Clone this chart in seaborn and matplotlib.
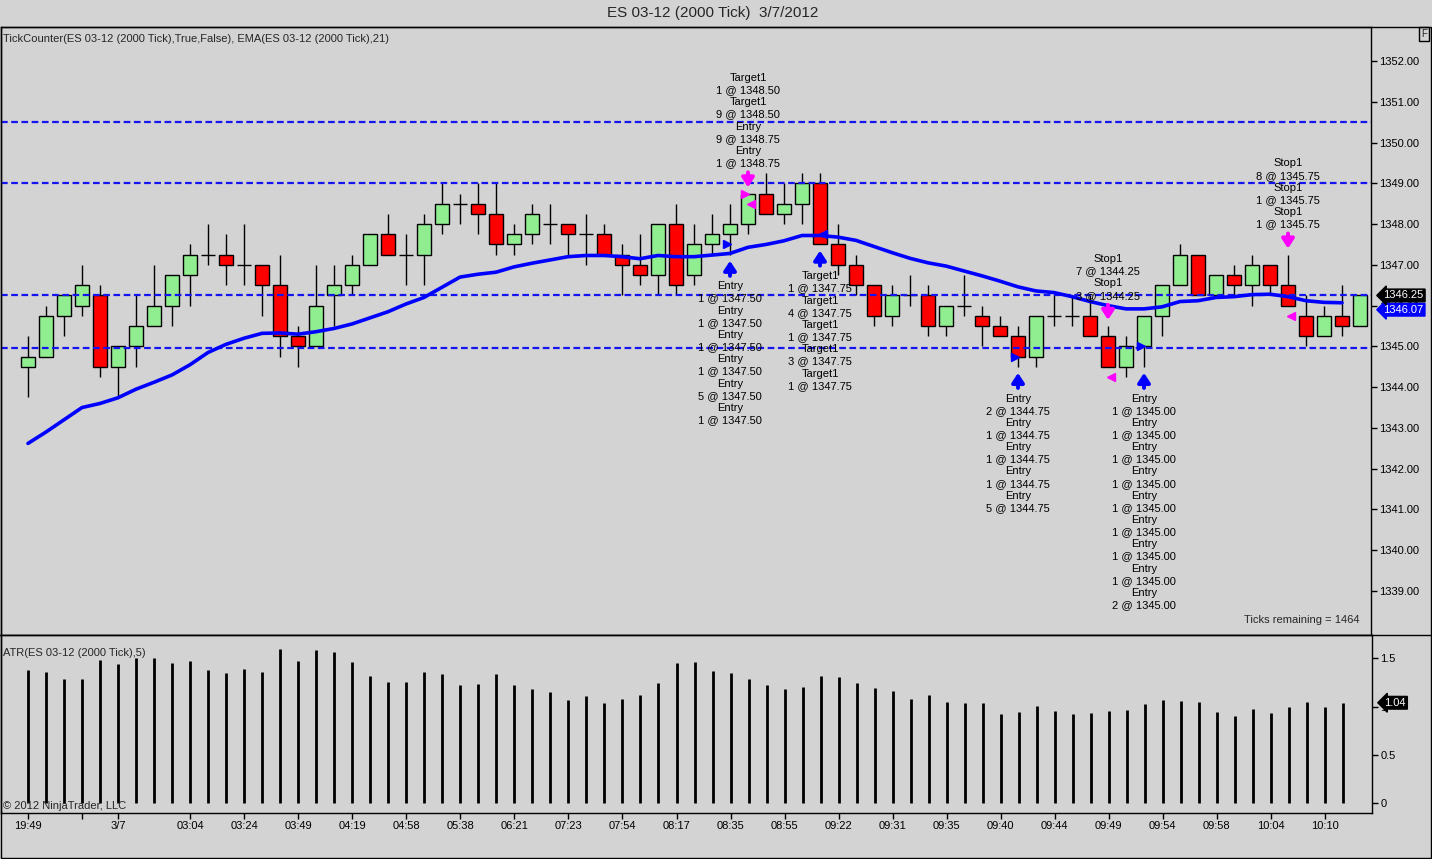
#recreates the NinjaTrader ES 03-12 (2000 Tick) chart with EMA and ATR panels

import matplotlib
matplotlib.use("Agg")
import matplotlib.pyplot as plt
from matplotlib.lines import Line2D
from matplotlib.patches import Rectangle
import numpy as np
import pandas as pd
import seaborn as sns

#candle values
opens = [1344.5, 1344.75, 1345.75, 1346, 1346.25, 1344.5, 1345, 1345.5, 1346, 1346.75,
         1347.25, 1347.25, 1347, 1347, 1346.5, 1345.25, 1345, 1346.25, 1346.5, 1347,
         1347.75, 1347.25, 1347.25, 1348, 1348.5, 1348.5, 1348.25, 1347.5, 1347.75, 1348,
         1348, 1347.75, 1347.75, 1347.25, 1347, 1346.75, 1348, 1346.75, 1347.5, 1347.75,
         1348, 1348.75, 1348.25, 1348.5, 1349, 1347.5, 1347, 1346.5, 1345.75, 1346.25,
         1346.25, 1345.5, 1346, 1345.75, 1345.5, 1345.25, 1344.75, 1345.75, 1345.75, 1345.75,
         1345.25, 1344.5, 1345, 1345.75, 1346.5, 1347.25, 1346.25, 1346.75, 1346.5, 1347,
         1346.5, 1345.75, 1345.25, 1345.75, 1345.5]
highs = [1345.25, 1346, 1346.25, 1347, 1346.5, 1345, 1346.25, 1347, 1346.75, 1347.5,
         1348, 1347.75, 1348, 1347, 1347.25, 1345.5, 1347, 1347, 1347.25, 1347.75,
         1348.25, 1347.75, 1348.25, 1349, 1348.75, 1349, 1349, 1348, 1348.5, 1348.5,
         1348, 1348.25, 1348, 1347.5, 1347.75, 1348, 1348.5, 1348, 1348.25, 1348.5,
         1348.75, 1349.25, 1349, 1349.25, 1349.25, 1348, 1347.25, 1346.5, 1346.5, 1346.75,
         1346.5, 1346, 1346.75, 1346, 1345.75, 1345.5, 1345.75, 1346.25, 1346.25, 1346.25,
         1345.5, 1345.25, 1345.75, 1346.5, 1347.5, 1347.25, 1346.75, 1347, 1347.25, 1347,
         1347.25, 1346.25, 1346, 1346.5, 1346.25]
lows = [1343.75, 1344.75, 1345.25, 1345.75, 1344.25, 1343.75, 1344.5, 1345.5, 1345.5, 1346,
        1347, 1346.5, 1346.5, 1345.75, 1344.75, 1344.5, 1345, 1345.5, 1346.25, 1347,
        1347.25, 1346.5, 1346.5, 1347.75, 1348, 1347.75, 1347.25, 1347.25, 1347.5, 1347.5,
        1347.25, 1347, 1347.25, 1346.25, 1346.5, 1346.25, 1346.25, 1346.5, 1347.25, 1347.25,
        1347.75, 1348.25, 1348, 1348, 1347.5, 1346.75, 1346.25, 1345.5, 1345.5, 1346,
        1345.25, 1345.25, 1345.75, 1345, 1345.25, 1344.5, 1344.5, 1345.5, 1345.5, 1345.25,
        1344.5, 1344.25, 1344.5, 1345.25, 1346.5, 1346.25, 1346.25, 1346.25, 1346, 1346.25,
        1346, 1345, 1345.25, 1345.25, 1345.5]
closes = [1344.75, 1345.75, 1346.25, 1346.5, 1344.5, 1345, 1345.5, 1346, 1346.75, 1347.25,
          1347.25, 1347, 1347, 1346.5, 1345.25, 1345, 1346, 1346.5, 1347, 1347.75,
          1347.25, 1347.25, 1348, 1348.5, 1348.5, 1348.25, 1347.5, 1347.75, 1348.25, 1348,
          1347.75, 1347.75, 1347.25, 1347, 1346.75, 1348, 1346.5, 1347.5, 1347.75, 1348,
          1348.75, 1348.25, 1348.5, 1349, 1347.5, 1347, 1346.5, 1345.75, 1346.25, 1346.25,
          1345.5, 1346, 1346, 1345.5, 1345.25, 1344.75, 1345.75, 1345.75, 1345.75, 1345.25,
          1344.5, 1345, 1345.75, 1346.5, 1347.25, 1346.25, 1346.75, 1346.5, 1347, 1346.5,
          1346, 1345.25, 1345.75, 1345.5, 1346.25]

#EMA(21) line, drawn up to the second to last bar
ema = [1342.62, 1342.9, 1343.2, 1343.5, 1343.6, 1343.74, 1343.95, 1344.12, 1344.3, 1344.55,
       1344.85, 1345.05, 1345.2, 1345.32, 1345.33, 1345.3, 1345.36, 1345.44, 1345.55, 1345.7,
       1345.85, 1346.04, 1346.2, 1346.45, 1346.7, 1346.77, 1346.82, 1346.95, 1347.04, 1347.12,
       1347.2, 1347.23, 1347.23, 1347.2, 1347.15, 1347.23, 1347.2, 1347.2, 1347.24, 1347.28,
       1347.43, 1347.5, 1347.59, 1347.72, 1347.72, 1347.68, 1347.6, 1347.45, 1347.3, 1347.16,
       1347.05, 1346.97, 1346.85, 1346.73, 1346.6, 1346.46, 1346.36, 1346.32, 1346.22, 1346.1,
       1346.0, 1345.92, 1345.92, 1345.97, 1346.1, 1346.12, 1346.2, 1346.22, 1346.27, 1346.28,
       1346.22, 1346.12, 1346.08, 1346.07]

#ATR(5) values
atr = [1.38, 1.36, 1.29, 1.29, 1.48, 1.44, 1.50, 1.50, 1.45, 1.47,
       1.38, 1.35, 1.39, 1.36, 1.60, 1.47, 1.59, 1.57, 1.46, 1.32,
       1.26, 1.26, 1.36, 1.34, 1.22, 1.23, 1.34, 1.22, 1.18, 1.15,
       1.07, 1.11, 1.04, 1.08, 1.12, 1.24, 1.45, 1.46, 1.37, 1.35,
       1.29, 1.22, 1.18, 1.20, 1.32, 1.31, 1.24, 1.19, 1.16, 1.08,
       1.12, 1.05, 1.04, 1.04, 0.92, 0.94, 1.01, 0.95, 0.92, 0.93,
       0.95, 0.96, 1.03, 1.07, 1.06, 1.05, 0.94, 0.90, 0.98, 0.93,
       1.00, 1.05, 1.00, 1.04]

#horizontal levels
levels = [1350.5, 1349.0, 1346.25, 1344.95]

#time axis
tick_pos = [0, 3, 5, 9, 12, 15, 18, 21, 24, 27, 30, 33, 36, 39, 42, 45, 48, 51, 54, 57, 60, 63, 66, 69, 72]
tick_labels = ["19:49", "", "3/7", "03:04", "03:24", "03:49", "04:19", "04:58", "05:38", "06:21",
               "07:23", "07:54", "08:17", "08:35", "08:55", "09:22", "09:31", "09:35", "09:40",
               "09:44", "09:49", "09:54", "09:58", "10:04", "10:10"]

#trade markers: bar index, side of the bar, colour, text
trade_bars = [39, 40, 44, 55, 60, 62, 70]
trade_side = ["below", "above", "below", "below", "above", "below", "above"]
trade_color = ["#0000ff", "#ff00ff", "#0000ff", "#0000ff", "#ff00ff", "#0000ff", "#ff00ff"]
trade_text = [
    ["Entry", "1 @ 1347.50", "Entry", "1 @ 1347.50", "Entry", "1 @ 1347.50",
     "Entry", "1 @ 1347.50", "Entry", "5 @ 1347.50", "Entry", "1 @ 1347.50"],
    ["Target1", "1 @ 1348.50", "Target1", "9 @ 1348.50", "Entry", "9 @ 1348.75", "Entry", "1 @ 1348.75"],
    ["Target1", "1 @ 1347.75", "Target1", "4 @ 1347.75", "Target1", "1 @ 1347.75",
     "Target1", "3 @ 1347.75", "Target1", "1 @ 1347.75"],
    ["Entry", "2 @ 1344.75", "Entry", "1 @ 1344.75", "Entry", "1 @ 1344.75",
     "Entry", "1 @ 1344.75", "Entry", "5 @ 1344.75"],
    ["Stop1", "7 @ 1344.25", "Stop1", "3 @ 1344.25"],
    ["Entry", "1 @ 1345.00", "Entry", "1 @ 1345.00", "Entry", "1 @ 1345.00",
     "Entry", "1 @ 1345.00", "Entry", "1 @ 1345.00", "Entry", "1 @ 1345.00",
     "Entry", "1 @ 1345.00", "Entry", "1 @ 1345.00", "Entry", "2 @ 1345.00"],
    ["Stop1", "8 @ 1345.75", "Stop1", "1 @ 1345.75", "Stop1", "1 @ 1345.75"],
]

#execution triangles: bar index, price, marker, colour
exec_bars = [39, 40, 40, 44, 55, 60, 62, 70]
exec_price = [1347.5, 1348.75, 1348.5, 1347.75, 1344.75, 1344.25, 1345.0, 1345.75]
exec_marker = [">", ">", "<", "<", ">", "<", ">", "<"]
exec_color = ["#0000ff", "#ff00ff", "#ff00ff", "#0000ff", "#0000ff", "#ff00ff", "#0000ff", "#ff00ff"]

BG = "#d3d3d3"
sns.set_style("ticks", {"axes.facecolor": BG, "figure.facecolor": BG,
                        "axes.edgecolor": "black", "xtick.color": "black", "ytick.color": "black"})
plt.rcParams['font.family'] = ['Liberation Sans', 'DejaVu Sans']

W, H = 1432, 859
fig = plt.figure(figsize=(W / 100, H / 100), dpi=100)

#pixel helpers
def fx(px):
    return px / W

def fy(py):
    return 1 - py / H

ax = fig.add_axes([fx(1), fy(635), fx(1371) - fx(1), fy(27) - fy(635)])
ax2 = fig.add_axes([fx(1), fy(813), fx(1372) - fx(1), fy(635) - fy(813)])

idx = np.arange(len(opens))
o = np.array(opens)
h = np.array(highs)
l = np.array(lows)
c = np.array(closes)
up = c > o
dn = c < o
doji = c == o
bw = 0.78

# wicks then bodies
ax.vlines(idx, l, h, color="black", lw=1, zorder=2)
ax.bar(idx[up], (c - o)[up], bottom=o[up], width=bw, color="#90ee90", edgecolor="black", lw=1, zorder=3)
ax.bar(idx[dn], (o - c)[dn], bottom=c[dn], width=bw, color="#ff0000", edgecolor="black", lw=1, zorder=3)
ax.hlines(o[doji], idx[doji] - bw / 2, idx[doji] + bw / 2, color="black", lw=1, zorder=3)

# EMA
ema_df = pd.DataFrame({"bar": idx[:len(ema)], "ema": ema})
sns.lineplot(data=ema_df, x="bar", y="ema", ax=ax, color="#0000ff", lw=2.6, zorder=5)

# level lines
for v in levels:
    ax.axhline(v, color="#1414f0", lw=1.6, ls=(0, (3, 1.6)), zorder=4)

# trade arrows and text
for i, side, col, lines in zip(trade_bars, trade_side, trade_color, trade_text):
    if side == "below":
        tip = lows[i] - 0.15
        tail = tip - 0.37
        off = -4
        va = "top"
    else:
        tip = highs[i] + 0.15
        tail = tip + 0.37
        off = 3
        va = "bottom"
    ax.annotate("", xy=(i, tip), xytext=(i, tail),
                arrowprops=dict(arrowstyle="-|>,head_width=0.36,head_length=0.55", color=col,
                                lw=2.8, shrinkA=0, shrinkB=0, mutation_scale=10), zorder=6)
    ax.annotate("\n".join(lines), xy=(i, tail), xytext=(0, off), textcoords="offset points",
                ha="center", va=va, fontsize=8, linespacing=1.27, color="black", zorder=6)

for i, p, m, col in zip(exec_bars, exec_price, exec_marker, exec_color):
    shift = -0.17 if m == ">" else 0.17
    ax.plot(i + shift, p, marker=m, color=col, markersize=5.5, ls="none", zorder=6)

ax.set_xlim(-1.5, 74.61)
ax.set_ylim(1337.921, 1352.834)
ax.yaxis.tick_right()
ax.set_yticks(np.arange(1339, 1353, 1))
ax.set_yticklabels([f"{v:.2f}" for v in np.arange(1339, 1353, 1)])
ax.tick_params(axis="y", direction="out", length=4, width=1, labelsize=8, pad=2)
ax.tick_params(axis="x", bottom=False, labelbottom=False)
ax.set_xlabel("")
ax.set_ylabel("")
for s in ax.spines.values():
    s.set_visible(True)
    s.set_linewidth(1)

# current price / ema labels (they overlap in the original too)
ax.annotate(f"{ema[-1]:.2f}", xy=(1, ema[-1]), xycoords=("axes fraction", "data"),
            xytext=(9, -5), textcoords="offset points", color="white", fontsize=8,
            ha="left", va="center", annotation_clip=False,
            bbox=dict(boxstyle="larrow,pad=0.12", fc="#0000ff", ec="#0000ff"), zorder=7)
ax.annotate(f"{closes[-1]:.2f}", xy=(1, closes[-1]), xycoords=("axes fraction", "data"),
            xytext=(9, 0), textcoords="offset points", color="white", fontsize=8,
            ha="left", va="center", annotation_clip=False,
            bbox=dict(boxstyle="larrow,pad=0.12", fc="black", ec="black"), zorder=8)

# ATR panel
ax2.vlines(idx[:len(atr)], 0, atr, color="black", lw=2.0, zorder=3)
ax2.set_xlim(-1.5, 74.61)
ax2.set_ylim(-0.104, 1.743)
ax2.yaxis.tick_right()
ax2.set_yticks([0, 0.5, 1, 1.5])
ax2.set_yticklabels(["0", "0.5", "1", "1.5"])
ax2.set_xticks(tick_pos)
ax2.set_xticklabels(tick_labels)
ax2.tick_params(axis="both", direction="out", length=4, width=1, labelsize=8, pad=2)
for s in ax2.spines.values():
    s.set_visible(True)
    s.set_linewidth(1)
ax2.annotate(f"{atr[-1]:.2f}", xy=(1, atr[-1]), xycoords=("axes fraction", "data"),
             xytext=(9, 0), textcoords="offset points", color="white", fontsize=8,
             ha="left", va="center", annotation_clip=False,
             bbox=dict(boxstyle="larrow,pad=0.12", fc="black", ec="black"), zorder=8)

# frame lines
fig.add_artist(Rectangle((fx(0.5), fy(858)), fx(1431) - fx(0.5), fy(27) - fy(858),
                         transform=fig.transFigure, fill=False, ec="black", lw=1))
fig.add_artist(Line2D([0, fx(1431)], [fy(635), fy(635)], transform=fig.transFigure, color="black", lw=1))

# texts
fig.text(fx(713), fy(13), "ES 03-12 (2000 Tick)  3/7/2012", ha="center", va="center", fontsize=11)
fig.text(fx(3), fy(39), "TickCounter(ES 03-12 (2000 Tick),True,False), EMA(ES 03-12 (2000 Tick),21)",
         ha="left", va="center", fontsize=8)
fig.text(fx(3), fy(653), "ATR(ES 03-12 (2000 Tick),5)", ha="left", va="center", fontsize=8)
fig.text(fx(3), fy(806), "\u00a9 2012 NinjaTrader, LLC", ha="left", va="center", fontsize=8)
fig.text(fx(1360), fy(620), "Ticks remaining = 1464", ha="right", va="center", fontsize=8)
fig.text(fx(1424), fy(34), "F", ha="center", va="center", fontsize=7,
         bbox=dict(boxstyle="square,pad=0.2", fc="none", ec="black", lw=1))

fig.savefig("out.png", dpi=100, facecolor=BG)
